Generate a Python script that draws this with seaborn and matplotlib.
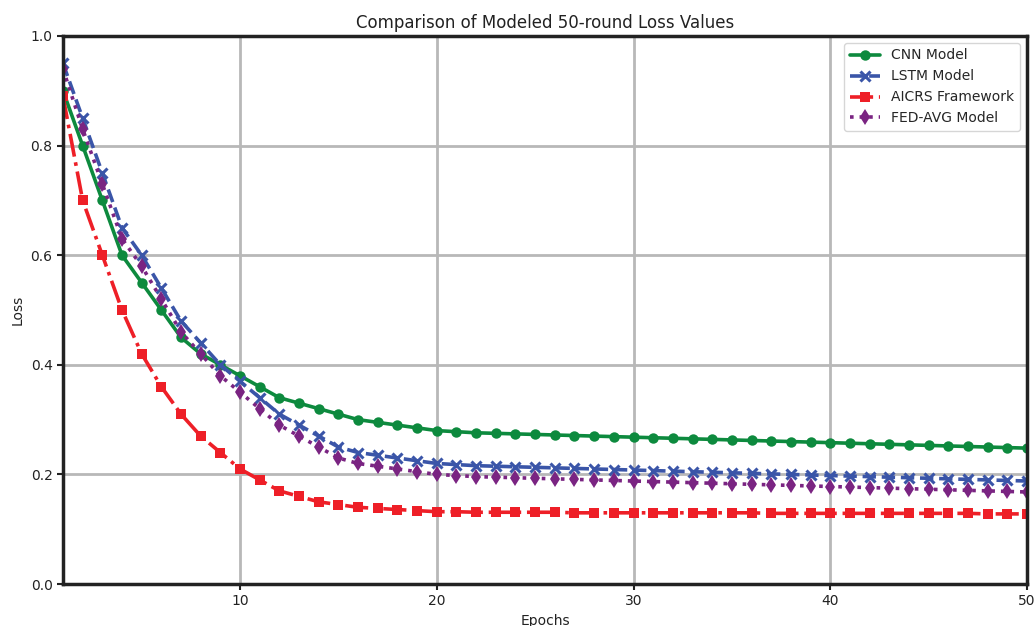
import pandas as pd
import matplotlib
matplotlib.use("Agg")
import matplotlib.pyplot as plt
import seaborn as sns

epochs = list(range(1, 51))

cnn = [0.90, 0.80, 0.70, 0.60, 0.55, 0.50, 0.45, 0.42, 0.40, 0.38,
       0.36, 0.34, 0.33, 0.32, 0.31, 0.30, 0.295, 0.29, 0.285, 0.28,
       0.278, 0.276, 0.275, 0.274, 0.273, 0.272, 0.271, 0.270, 0.269, 0.268,
       0.267, 0.266, 0.265, 0.264, 0.263, 0.262, 0.261, 0.260, 0.259, 0.258,
       0.257, 0.256, 0.255, 0.254, 0.253, 0.252, 0.251, 0.250, 0.249, 0.248]

lstm = [0.95, 0.85, 0.75, 0.65, 0.60, 0.54, 0.48, 0.44, 0.40, 0.37,
        0.34, 0.31, 0.29, 0.27, 0.25, 0.24, 0.235, 0.23, 0.225, 0.22,
        0.218, 0.216, 0.215, 0.214, 0.213, 0.212, 0.211, 0.210, 0.209, 0.208,
        0.207, 0.206, 0.205, 0.204, 0.203, 0.202, 0.201, 0.200, 0.199, 0.198,
        0.197, 0.196, 0.195, 0.194, 0.193, 0.192, 0.191, 0.190, 0.189, 0.188]

aicrs = [0.89, 0.70, 0.60, 0.50, 0.42, 0.36, 0.31, 0.27, 0.24, 0.21,
         0.19, 0.17, 0.16, 0.15, 0.145, 0.14, 0.138, 0.136, 0.134, 0.132,
         0.132, 0.131, 0.131, 0.131, 0.131, 0.131, 0.130, 0.130, 0.130, 0.130,
         0.130, 0.130, 0.130, 0.130, 0.130, 0.130, 0.129, 0.129, 0.129, 0.129,
         0.129, 0.129, 0.129, 0.129, 0.129, 0.129, 0.129, 0.128, 0.128, 0.128]

fedavg = [0.94, 0.83, 0.73, 0.63, 0.58, 0.52, 0.46, 0.42, 0.38, 0.35,
          0.32, 0.29, 0.27, 0.25, 0.23, 0.22, 0.215, 0.21, 0.205, 0.20,
          0.198, 0.196, 0.195, 0.194, 0.193, 0.192, 0.191, 0.190, 0.189, 0.188,
          0.187, 0.186, 0.185, 0.184, 0.183, 0.182, 0.181, 0.180, 0.179, 0.178,
          0.177, 0.176, 0.175, 0.174, 0.173, 0.172, 0.171, 0.170, 0.169, 0.168]

series = [
    ("CNN Model", cnn, "#0d8a3e", "o", "-", 7.5),
    ("LSTM Model", lstm, "#3a55a8", "x", "--", 7),
    ("AICRS Framework", aicrs, "#ee1f27", "s", "-.", 7),
    ("FED-AVG Model", fedavg, "#7a2482", "d", ":", 8.5),
]

sns.set_style("white")
plt.rcParams["font.family"] = ["DejaVu Sans"]

fig = plt.figure(figsize=(10.36, 6.26), dpi=100)
ax = fig.add_axes([0.0608, 0.067, 0.9305, 0.8755])

for name, vals, color, marker, ls, ms in series:
    df = pd.DataFrame({"Epochs": epochs, "Loss": vals})
    sns.lineplot(x="Epochs", y="Loss", data=df, ax=ax, label=name,
                 color=color, marker=marker, linestyle=ls, linewidth=2.6,
                 markersize=ms,
                 markeredgewidth=2.2 if marker == "x" else 0,
                 markeredgecolor=color)

ax.set_xlim(1, 50)
ax.set_ylim(0, 1.0)
ax.set_xticks([10, 20, 30, 40, 50])
ax.set_yticks([0.0, 0.2, 0.4, 0.6, 0.8, 1.0])
ax.grid(True, color="#b8b8b8", linewidth=2)
ax.set_axisbelow(True)
for sp in ax.spines.values():
    sp.set_linewidth(2.5)
    sp.set_color("#222222")
ax.tick_params(axis="both", labelsize=10, length=4, width=1.5, direction="out",
               left=True, bottom=True, colors="#222222")
ax.set_title("Comparison of Modeled 50-round Loss Values", fontsize=12, color="#222222")
ax.set_xlabel("Epochs", fontsize=10, color="#222222")
ax.set_ylabel("Loss", fontsize=10, color="#222222")
ax.legend(loc="upper right", fontsize=10, frameon=True, edgecolor="#cccccc",
          handlelength=2.2)

fig.savefig("out.png", dpi=100)
